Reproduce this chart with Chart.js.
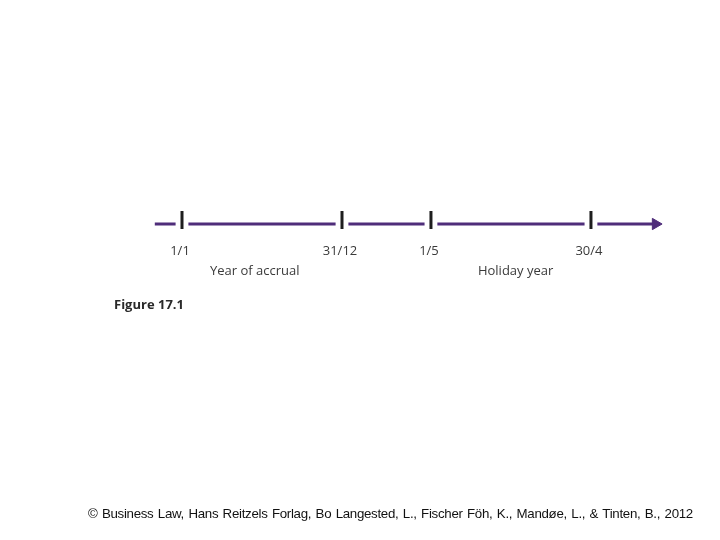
<!DOCTYPE html>
<html>
<head>
<meta charset="utf-8">
<script src="https://cdn.jsdelivr.net/npm/chart.js@4"></script>
<style>
  html, body { margin: 0; padding: 0; background: #fff; }
  #wrap { position: relative; width: 720px; height: 540px; }
  #caption {
    position: absolute; left: 88px; top: 506px; white-space: nowrap;
    font-family: "Liberation Sans", Arial, sans-serif; font-size: 13.3px; color: #111;
    letter-spacing: -0.3px; word-spacing: 1px;
  }
</style>
</head>
<body>
<div id="wrap">
  <canvas id="timeline" width="720" height="540"></canvas>
  <div id="caption">© Business Law, Hans Reitzels Forlag, Bo Langested, L., Fischer Föh, K., Mandøe, L., &amp; Tinten, B., 2012</div>
</div>
<script>
// tidslinje: positioner i "år" (skematisk, ikke i skala)
const tickLabels = ['1/1', '31/12', '1/5', '30/4'];
const tickPos = [0, 1, 1.556, 2.556];
const periodLabels = ['Year of accrual', 'Holiday year'];
const periodPos = [0.455, 2.085];
const lineStart = -0.17;
const lineEnd = 2.96;   // pilens midtpunkt
const gap = 0.04;
const figureLabel = 'Figure 17.1';

// linjestykker mellem markeringerne (null = hul)
const stops = [lineStart, ...tickPos, lineEnd];
const lineData = [];
for (let i = 0; i < stops.length - 1; i++) {
  const a = i === 0 ? stops[i] : stops[i] + gap;
  const b = i === stops.length - 2 ? stops[i + 1] : stops[i + 1] - gap;
  lineData.push({ x: a, y: 0 }, { x: b, y: 0 });
  if (i < stops.length - 2) lineData.push({ x: b, y: null });
}

const tickData = [];
tickPos.forEach(p => {
  tickData.push({ x: p, y: 0.058 }, { x: p, y: -0.022 }, { x: p, y: null });
});

const labelPlugin = {
  id: 'timelineLabels',
  afterDatasetsDraw(chart) {
    const { ctx, scales: { x, y } } = chart;
    const base = y.getPixelForValue(0);
    ctx.save();
    ctx.fillStyle = '#3a3a3a';
    ctx.textAlign = 'center';
    ctx.textBaseline = 'middle';
    ctx.font = '13px "Open Sans", sans-serif';
    tickLabels.forEach((t, i) => ctx.fillText(t, x.getPixelForValue(tickPos[i]) - 2, base + 27));
    periodLabels.forEach((t, i) => ctx.fillText(t, x.getPixelForValue(periodPos[i]), base + 47));
    ctx.textAlign = 'left';
    ctx.fillStyle = '#2a2a2a';
    ctx.font = 'bold 13px "Open Sans", sans-serif';
    ctx.fillText(figureLabel, x.getPixelForValue(-0.425), base + 81);
    ctx.restore();
  }
};

new Chart(document.getElementById('timeline'), {
  type: 'scatter',
  data: {
    datasets: [
      {
        data: lineData,
        showLine: true,
        spanGaps: false,
        borderColor: '#4f2d7a',
        borderWidth: 3,
        pointRadius: lineData.map((d, i) => i === lineData.length - 1 ? 6.5 : 0),
        pointStyle: 'triangle',
        rotation: 90,
        pointBackgroundColor: '#4f2d7a',
        pointBorderColor: '#4f2d7a',
        pointBorderWidth: 1,
      },
      {
        data: tickData,
        showLine: true,
        spanGaps: false,
        borderColor: '#1e1e1e',
        borderWidth: 3,
        pointRadius: 0,
      },
    ],
  },
  options: {
    responsive: false,
    animation: false,
    events: [],
    layout: { autoPadding: false, padding: { top: 0, bottom: 92, left: 0, right: 0 } },
    plugins: { legend: { display: false }, tooltip: { enabled: false } },
    scales: {
      x: { type: 'linear', display: false, min: -182 / 160, max: (720 - 182) / 160 },
      y: { type: 'linear', display: false, min: -1, max: 1 },
    },
  },
  plugins: [labelPlugin],
});
</script>
</body>
</html>
